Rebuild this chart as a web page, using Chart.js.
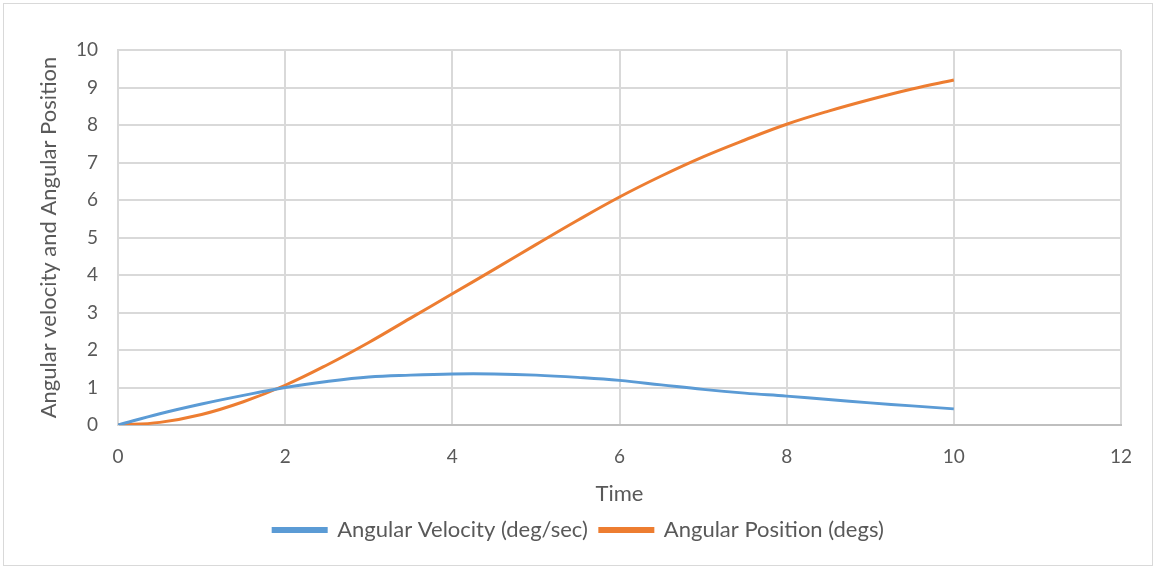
<!DOCTYPE html>
<html>
<head>
<meta charset="utf-8">
<script src="https://cdn.jsdelivr.net/npm/chart.js@4/dist/chart.umd.min.js"></script>
<style>
  html, body { margin: 0; padding: 0; background: #ffffff; }
  #wrap { width: 1156px; height: 569px; }
</style>
</head>
<body>
<div id="wrap"><canvas id="motionChart" width="1156" height="569"></canvas></div>
<script>
// time samples (s)
const timeValues = [0, 0.5, 1, 1.5, 2, 2.5, 3, 3.5, 4, 4.5, 5, 5.5, 6, 6.5, 7, 7.5, 8, 8.5, 9, 9.5, 10];
// readings
const angularVelocity = [0, 0.3, 0.56, 0.79, 1.0, 1.16, 1.28, 1.33, 1.36, 1.36, 1.33, 1.27, 1.19, 1.07, 0.95, 0.85, 0.77, 0.68, 0.59, 0.51, 0.43];
const angularPosition = [0, 0.07, 0.28, 0.62, 1.06, 1.6, 2.2, 2.85, 3.5, 4.15, 4.81, 5.46, 6.08, 6.64, 7.15, 7.6, 8.02, 8.37, 8.68, 8.96, 9.2];
const seriesNames = ["Angular Velocity (deg/sec)", "Angular Position (degs)"];

const textColor = "#595959";
const gridColor = "#d9d9d9";
const fontFamily = "Lato, 'Open Sans', sans-serif";

function toPoints(values) {
  return timeValues.map((t, i) => ({ x: t, y: values[i] }));
}

// outer frame like the spreadsheet chart area
const framePlugin = {
  id: "frame",
  beforeDraw(chart) {
    const ctx = chart.ctx;
    ctx.save();
    ctx.fillStyle = "#ffffff";
    ctx.fillRect(0, 0, chart.width, chart.height);
    ctx.strokeStyle = "#d9d9d9";
    ctx.lineWidth = 1;
    ctx.strokeRect(3.5, 3.5, chart.width - 7, chart.height - 7);
    ctx.restore();
  },
};

const ctx = document.getElementById("motionChart").getContext("2d");
new Chart(ctx, {
  type: "line",
  data: {
    datasets: [
      {
        label: seriesNames[0],
        data: toPoints(angularVelocity),
        borderColor: "#5b9bd5",
        backgroundColor: "#5b9bd5",
        borderWidth: 3,
        pointRadius: 0,
        tension: 0.4,
      },
      {
        label: seriesNames[1],
        data: toPoints(angularPosition),
        borderColor: "#ed7d31",
        backgroundColor: "#ed7d31",
        borderWidth: 3,
        pointRadius: 0,
        tension: 0.4,
      },
    ],
  },
  options: {
    responsive: false,
    animation: false,
    layout: { padding: { left: 36, right: 35, top: 50, bottom: 18 } },
    plugins: {
      legend: {
        position: "bottom",
        labels: {
          color: textColor,
          font: { family: fontFamily, size: 22 },
          boxWidth: 53,
          boxHeight: 3,
          padding: 12,
        },
      },
      tooltip: { enabled: false },
    },
    scales: {
      x: {
        type: "linear",
        min: 0,
        max: 12,
        ticks: {
          stepSize: 2,
          color: textColor,
          font: { family: fontFamily, size: 19 },
          padding: 20,
        },
        grid: { color: gridColor, lineWidth: 2, drawTicks: false },
        border: { color: "#bfbfbf", width: 2 },
        title: {
          display: true,
          text: "Time",
          color: textColor,
          font: { family: fontFamily, size: 22 },
          padding: { top: 12, bottom: 0 },
        },
        afterFit(scale) {
          scale.height = 82;
        },
      },
      y: {
        min: 0,
        max: 10,
        ticks: {
          stepSize: 1,
          color: textColor,
          font: { family: fontFamily, size: 19 },
          padding: 20,
        },
        grid: { color: gridColor, lineWidth: 2, drawTicks: false },
        border: { color: gridColor, width: 2 },
        title: {
          display: true,
          text: "Angular velocity and Angular Position",
          color: textColor,
          font: { family: fontFamily, size: 22 },
          padding: { top: 0, bottom: 0 },
        },
        afterFit(scale) {
          scale.width = 118 - 36;
        },
      },
    },
  },
  plugins: [framePlugin],
});
</script>
</body>
</html>
